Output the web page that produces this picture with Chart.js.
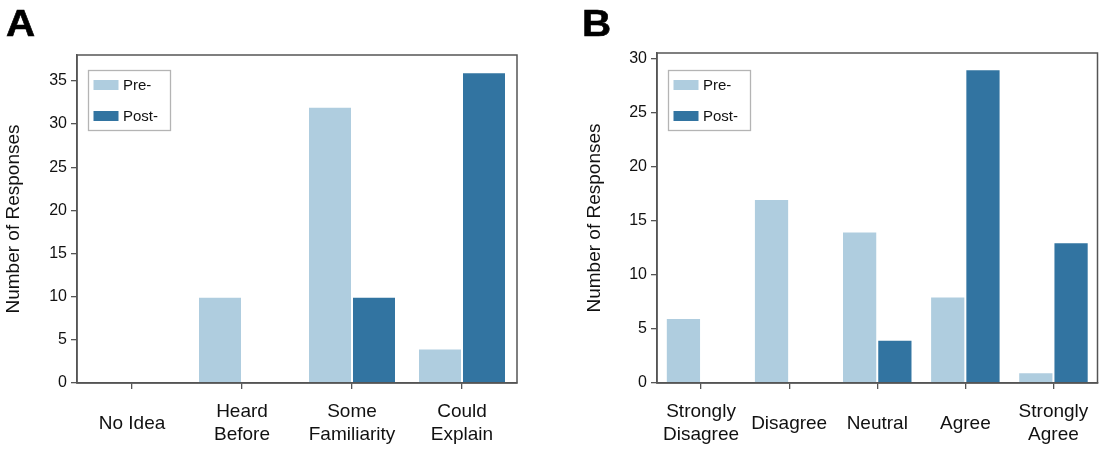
<!DOCTYPE html>
<html lang="en">
<head>
<meta charset="UTF-8">
<title>Pre- / Post- responses</title>
<script src="https://cdn.jsdelivr.net/npm/chart.js"></script>
<style>
  body { margin: 0; background: #fff; }
  #wrap { position: relative; width: 1109px; height: 455px; }
  .panel { position: absolute; top: 0; height: 455px; }
  .letter {
    position: absolute; top: 3px; line-height: 36px;
    font: bold 36px "Liberation Sans", Arial, sans-serif; color: #000;
    -webkit-text-stroke: 0.6px #000;
    transform: scaleX(1.12); transform-origin: left top;
  }
</style>
</head>
<body>
<div id="wrap">
  <div class="panel" style="left:0;width:555px"><canvas id="chartA" width="555" height="455"></canvas></div>
  <div class="panel" style="left:555px;width:554px"><canvas id="chartB" width="554" height="455"></canvas></div>
  <div class="letter" style="left:6px">A</div>
  <div class="letter" style="left:582px">B</div>
</div>

<script>
// data
const seriesNames = ['Pre-', 'Post-'];

const knowledgeLabels = ['No Idea', ['Heard', 'Before'], ['Some', 'Familiarity'], ['Could', 'Explain']];
const knowledgePre = [0, 10, 32, 4];
const knowledgePost = [0, 0, 10, 36];

const agreeLabels = [['Strongly', 'Disagree'], 'Disagree', 'Neutral', 'Agree', ['Strongly', 'Agree']];
const agreePre = [6, 17, 14, 8, 1];
const agreePost = [0, 0, 4, 29, 13];

const yTitle = 'Number of Responses';
const yStep = 5;
const yMaxA = 38;
const yMaxB = 30.5;

// style
const preColor = '#afcddf';
const postColor = '#3274a1';
const axisColor = '#555';
const textColor = '#111';
const fontFamily = '"Liberation Sans", Arial, sans-serif';

// frame round the plot area
const frame = {
  id: 'frame',
  afterDatasetsDraw(chart) {
    const a = chart.chartArea;
    const ctx = chart.ctx;
    ctx.save();
    ctx.strokeStyle = axisColor;
    ctx.lineWidth = 1.5;
    ctx.strokeRect(a.left, a.top, a.right - a.left, a.bottom - a.top);
    ctx.restore();
  }
};

// legend box inside the plot, top left
const boxLegend = {
  id: 'boxLegend',
  afterDraw(chart) {
    const ctx = chart.ctx;
    const x = chart.chartArea.left + 11;
    const y = 70;
    ctx.save();
    ctx.strokeStyle = '#b4b4b4';
    ctx.lineWidth = 1.3;
    ctx.strokeRect(x + 0.5, y + 0.5, 82, 60);
    ctx.font = '15px ' + fontFamily;
    ctx.textBaseline = 'middle';
    chart.data.datasets.forEach((ds, i) => {
      const rowY = y + 15 + i * 31;
      ctx.fillStyle = ds.backgroundColor;
      ctx.fillRect(x + 5.5, rowY - 5, 25, 10);
      ctx.fillStyle = textColor;
      ctx.fillText(ds.label, x + 35, rowY + 1);
    });
    ctx.restore();
  }
};

function makeChart(id, labels, pre, post, yMax, yWidth, titlePad, padTop, padRight) {
  return new Chart(document.getElementById(id), {
    type: 'bar',
    data: {
      labels: labels,
      datasets: [
        { label: seriesNames[0], data: pre, backgroundColor: preColor },
        { label: seriesNames[1], data: post, backgroundColor: postColor }
      ]
    },
    options: {
      responsive: false,
      animation: false,
      layout: { padding: { top: padTop, right: padRight, left: 0, bottom: 0 } },
      datasets: {
        bar: {
          categoryPercentage: 0.8,
          barPercentage: 1.0,
          borderWidth: 1,
          borderColor: 'rgba(255,255,255,0.55)'
        }
      },
      plugins: { legend: { display: false }, tooltip: { enabled: false } },
      scales: {
        x: {
          grid: { drawOnChartArea: false, offset: false, tickLength: 6, color: axisColor, lineWidth: 1.3 },
          border: { display: true, color: axisColor, width: 1.5 },
          ticks: {
            color: textColor,
            font: { family: fontFamily, size: 19 },
            maxRotation: 0,
            autoSkip: false,
            crossAlign: 'center',
            padding: 23
          },
          afterFit(scale) {
            scale.height = 455 - 383;
            scale.paddingLeft = 0;
            scale.paddingRight = 0;
          }
        },
        y: {
          min: 0,
          max: yMax,
          grid: { drawOnChartArea: false, tickLength: 6, color: axisColor, lineWidth: 1.3 },
          border: { display: true, color: axisColor, width: 1.5 },
          ticks: {
            stepSize: yStep,
            includeBounds: false,
            color: textColor,
            font: { family: fontFamily, size: 16 },
            padding: 4
          },
          title: {
            display: true,
            text: yTitle,
            color: textColor,
            font: { family: fontFamily, size: 19 },
            padding: { top: titlePad, bottom: 0 }
          },
          afterFit(scale) { scale.width = yWidth; }
        }
      }
    },
    plugins: [frame, boxLegend]
  });
}

makeChart('chartA', knowledgeLabels, knowledgePre, knowledgePost, yMaxA, 77, 2, 55, 38);
makeChart('chartB', agreeLabels, agreePre, agreePost, yMaxB, 102, 28, 53, 11.5);
</script>
</body>
</html>
